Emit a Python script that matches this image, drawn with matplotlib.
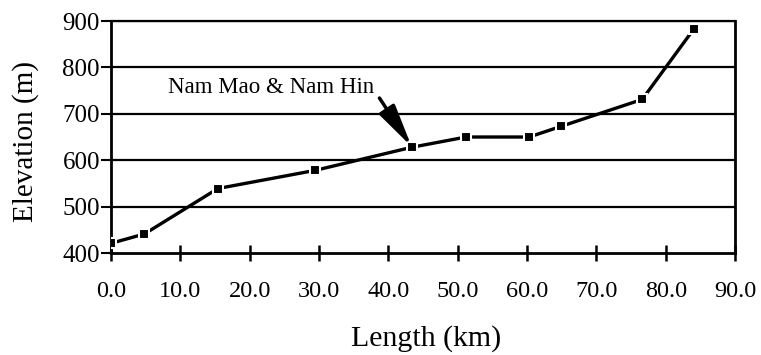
import matplotlib.pyplot as plt

length_km = [0.0, 4.8, 15.4, 29.4, 43.4, 51.2, 60.3, 64.9, 76.6, 84.0]
elevation_m = [421, 441, 539, 578, 628, 650, 650, 673, 731, 882]
x_ticks = [0, 10, 20, 30, 40, 50, 60, 70, 80, 90]
y_ticks = [400, 500, 600, 700, 800, 900]
note = "Nam Mao & Nam Hin"
note_idx = 4

plt.rcParams["font.family"] = ["Liberation Serif", "DejaVu Serif"]

fig = plt.figure(figsize=(7.61, 3.55), dpi=100)
ax = fig.add_axes([0.146, 0.2873, 0.820, 0.6535])

for y in y_ticks[1:]:
    ax.axhline(y, color="black", lw=1.6, zorder=1)

ax.plot(length_km, elevation_m, color="black", lw=2.4, marker="s", ms=6.5,
        mfc="black", mec="white", mew=1.5, zorder=3)

# label and arrow pointing at the confluence
ax.text(38.0, 745, note, ha="right", va="baseline", fontsize=16.5)
ax.annotate("", xy=(length_km[note_idx], elevation_m[note_idx]),
            xytext=(38.7, 734),
            arrowprops=dict(arrowstyle="-|>,head_length=2.6,head_width=0.55",
                            color="black", lw=2.5, shrinkA=0, shrinkB=0.5))

ax.set_xlim(0, 90)
ax.set_ylim(400, 900)
ax.set_xticks(x_ticks)
ax.set_xticklabels([f"{v:.1f}" for v in x_ticks])
ax.set_yticks(y_ticks)
ax.tick_params(axis="x", direction="inout", length=12, width=1.8, labelsize=17.5, pad=14)
ax.tick_params(axis="y", direction="out", length=7, width=1.5, labelsize=18, pad=1)

for side in ["left", "right", "bottom"]:
    ax.spines[side].set_linewidth(2)
ax.spines["top"].set_linewidth(1.6)

ax.set_xlabel("Length (km)", fontsize=21.5)
ax.set_ylabel("Elevation (m)", fontsize=21)
ax.xaxis.set_label_coords(0.505, -0.31)
ax.yaxis.set_label_coords(-0.115, 0.48)

fig.savefig("out.png", dpi=100)
